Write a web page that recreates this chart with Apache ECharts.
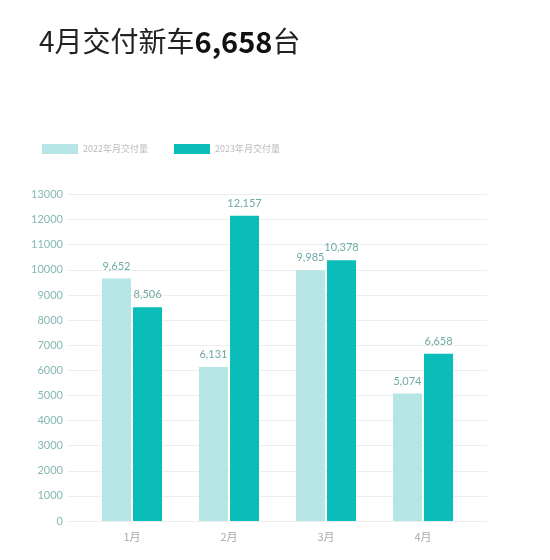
<!DOCTYPE html>
<html>
<head>
<meta charset="utf-8">
<script src="https://cdn.jsdelivr.net/npm/echarts@6/dist/echarts.min.js"></script>
<style>
    html, body { margin: 0; padding: 0; background: #fff; }
    #container { width: 550px; height: 560px; }
</style>
</head>
<body>
<div id="container"></div>
<script>
// 数据
var months = ['1月', '2月', '3月', '4月']
var sales2022 = [9652, 6131, 9985, 5074]
var sales2023 = [8506, 12157, 10378, 6658]
var yMax = 13000
var yStep = 1000

var fontCN = '"Noto Sans CJK SC", "Noto Sans", sans-serif'

var fmt = function (v) {
    return String(v).replace(/\B(?=(\d{3})+(?!\d))/g, ',')
}

const chartInit = function () {
    var dom = document.getElementById('container')
    var myChart = echarts.init(dom)

    var barLabel = {
        show: true,
        position: 'top',
        distance: 7,
        color: '#6fa9a5',
        fontSize: 11,
        fontFamily: 'Lato, "Noto Sans", sans-serif',
        formatter: function (p) {
            return fmt(p.value)
        },
    }

    var option = {
        backgroundColor: '#fff',
        animation: false,
        title: {
            left: 34,
            top: 22,
            text: '{n|4月交付新车}{b|6,658}{n|台}',
            textStyle: {
                rich: {
                    n: { fontSize: 28, color: '#222', fontFamily: fontCN, fontWeight: 'normal' },
                    b: { fontSize: 29, color: '#111', fontFamily: fontCN, fontWeight: 'bold' },
                },
            },
        },
        legend: {
            left: 37,
            top: 139,
            itemWidth: 36,
            itemHeight: 10,
            itemGap: 26,
            icon: 'rect',
            textStyle: { color: '#bbbbbb', fontSize: 9, fontFamily: fontCN },
            data: ['2022年月交付量', '2023年月交付量'],
        },
        // grid 0: 只画刻度和网格线, grid 1: 画柱子
        grid: [
            { left: 67, right: 63, top: 194.5, bottom: 39 },
            { left: 83.5, right: 78.5, top: 194.5, bottom: 39 },
        ],
        xAxis: [
            {
                gridIndex: 0,
                type: 'category',
                data: months,
                show: false,
            },
            {
                gridIndex: 1,
                type: 'category',
                data: months,
                axisLine: { show: false },
                axisTick: { show: false },
                axisLabel: { color: '#aaa', fontSize: 11, margin: 10, fontFamily: fontCN },
            },
        ],
        yAxis: [
            {
                gridIndex: 0,
                type: 'value',
                min: 0,
                max: yMax,
                interval: yStep,
                axisLine: { show: false },
                axisTick: { show: false },
                axisLabel: {
                    color: '#86b8b4',
                    fontSize: 11,
                    margin: 4,
                    fontFamily: 'Lato, "Noto Sans", sans-serif',
                    formatter: function (v) {
                        return String(v)
                    },
                },
                splitLine: { lineStyle: { color: '#eeeeee', width: 1 } },
            },
            {
                gridIndex: 1,
                type: 'value',
                min: 0,
                max: yMax,
                interval: yStep,
                show: false,
                splitLine: { show: false },
            },
        ],
        series: [
            {
                name: '2022年月交付量',
                type: 'bar',
                xAxisIndex: 1,
                yAxisIndex: 1,
                data: sales2022,
                barWidth: 29,
                barGap: '7%',
                itemStyle: { color: '#b5e6e5' },
                label: barLabel,
            },
            {
                name: '2023年月交付量',
                type: 'bar',
                xAxisIndex: 1,
                yAxisIndex: 1,
                data: sales2023,
                barWidth: 29,
                itemStyle: { color: '#0bbdb9' },
                label: barLabel,
            },
        ],
    }

    myChart.setOption(option, true)
}

chartInit()
</script>
</body>
</html>
